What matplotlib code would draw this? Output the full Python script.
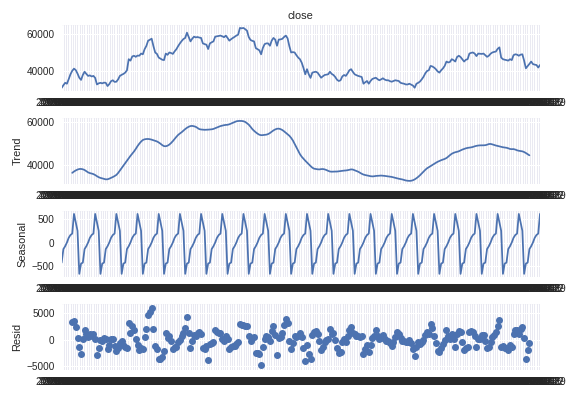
import numpy as np
import pandas as pd
import matplotlib
matplotlib.use("Agg")
import matplotlib.pyplot as plt

# ---- data ----
close = [
    30500, 32000, 33300, 32800, 35300, 38000, 39900, 41100, 40300, 38400,
    36100, 34900, 37600, 39400, 38200, 37100, 37400, 36800, 37100, 36000,
    32400, 33000, 33300, 33000, 33400, 33300, 31500, 32600, 34200, 34700,
    33800, 33900, 35200, 37100, 37700, 38200, 38900, 40200, 46300, 45500,
    47800, 48200, 47600, 48300, 48200, 49400, 49000, 51800, 53600, 56500,
    57000, 57600, 53500, 50000, 49200, 47200, 46600, 46000, 45800, 49400,
    48700, 50000, 49700, 49200, 50600, 51800, 53500, 55000, 56300, 57400,
    58000, 60900, 58500, 56100, 57600, 58700, 58300, 58500, 58200, 58000,
    55000, 54600, 54300, 51900, 55000, 55600, 56100, 58700, 58900, 59100,
    59300, 58900, 58400, 59300, 58000, 56500, 57300, 58000, 58600, 59300,
    59800, 63500, 63300, 63500, 62800, 62000, 58500, 56900, 56400, 56100,
    52400, 51800, 51200, 49000, 52500, 54600, 55000, 55000, 53700, 56500,
    58000, 57100, 53700, 57100, 57200, 57500, 58500, 59300, 57800, 53500,
    50000, 50200, 50000, 48500, 47200, 46300, 44400, 41500, 38000, 40800,
    38000, 36000, 38900, 39200, 39400, 38900, 37500, 36100, 36900, 37600,
    37800, 38000, 39400, 38200, 37600, 36500, 35000, 34300, 34700, 36800,
    37600, 37100, 38500, 40200, 40800, 39300, 38000, 37500, 37100, 36800,
    36500, 32800, 33600, 34300, 32800, 34300, 35400, 35800, 36100, 35300,
    34700, 35200, 35800, 35100, 34700, 34700, 34200, 33900, 34300, 34700,
    34500, 34300, 33300, 33000, 32800, 32400, 32400, 32800, 32300, 31800,
    30600, 32800, 33300, 34000, 35200, 36600, 38500, 39800, 40200, 42600,
    42300, 41700, 40800, 39600, 38900, 40200, 41200, 42600, 45000, 44500,
    44800, 46300, 45800, 45000, 47500, 48200, 47500, 46200, 45000, 46000,
    46300, 49400, 49800, 50000, 49400, 48000, 49400, 49300, 49200, 49400,
    48500, 47600, 48200, 49300, 50000, 50300, 50500, 52000, 52800, 47200,
    46300, 46000, 45800, 45500, 46300, 45800, 48500, 49000, 48800, 48200,
    48800, 49000, 45500, 41300, 42500, 43700, 45000, 43600, 43300, 43100,
    41700, 43100,
]
seasonal_cycle = [-450, -160, -100, -20, 80, 140, 170, 590, 410, 230, -690, -470]
period = 12
dates = pd.date_range(end="2020-03-29", periods=len(close), freq="W").strftime("%Y-%m-%d").tolist()

# ---- additive decomposition pieces ----
x = np.asarray(close, dtype=float)
n = len(x)
filt = np.r_[0.5, np.ones(period - 1), 0.5] / period
tr = np.convolve(x, filt, mode="valid")
half = period // 2
trend = np.r_[np.full(half, np.nan), tr, np.full(half, np.nan)]
sc = np.asarray(seasonal_cycle, dtype=float)
sc = sc - sc.mean()
seasonal = np.tile(sc, n // period + 1)[:n]
resid = x - trend - seasonal

# ---- plot ----
plt.style.use("seaborn-v0_8")
plt.rcParams["font.family"] = ["Liberation Sans", "DejaVu Sans"]

fig, axes = plt.subplots(4, 1, figsize=(8, 5.5), dpi=72)
fig.subplots_adjust(left=0.107, right=0.9375, top=0.937, bottom=0.066, hspace=0.41)
blue = "#4C72B0"

axes[0].plot(dates, x, color=blue, lw=1.75)
axes[0].set_title("close", fontsize=11)
axes[1].plot(dates, trend, color=blue, lw=1.75)
axes[1].set_ylabel("Trend", fontsize=11)
axes[2].plot(dates, seasonal, color=blue, lw=1.75)
axes[2].set_ylabel("Seasonal", fontsize=11)
axes[3].plot(dates, resid, marker="o", linestyle="none", color=blue, markersize=7, markeredgewidth=0)
axes[3].plot([0, n - 1], [0, 0], color="#000000", ls=":", lw=1, zorder=-3)
axes[3].set_ylabel("Resid", fontsize=11)
axes[3].set_ylim(-5750, 6800)

for ax in axes:
    ax.set_xlim(0, n - 1)
    ax.tick_params(axis="both", labelsize=10)

fig.savefig("out.png", dpi=72)
